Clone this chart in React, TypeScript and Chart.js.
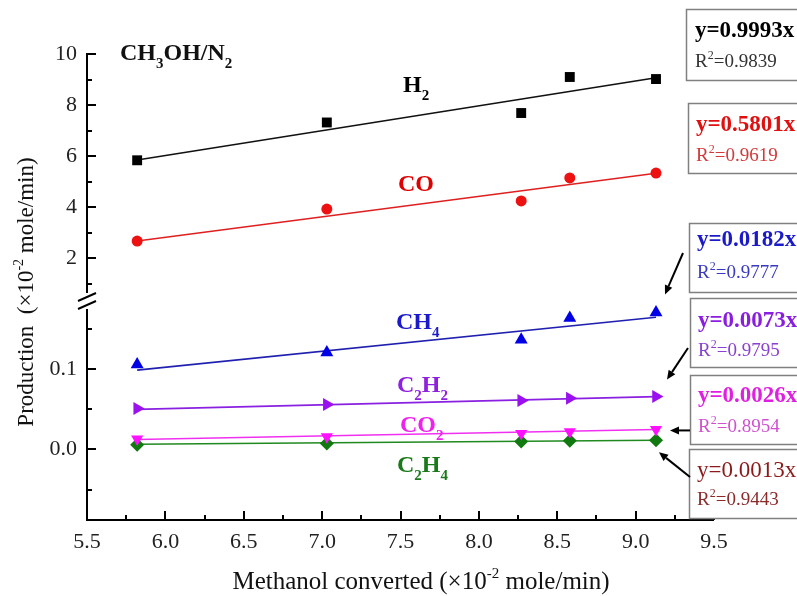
import React, { useEffect, useRef } from 'react';
import { Chart, registerables } from 'chart.js';

Chart.register(...registerables);

// ---- data ----
const xValues = [5.82, 7.03, 8.27, 8.58, 9.13];
const h2 = [5.84, 7.32, 7.69, 9.1, 9.02];
const co = [2.68, 3.93, 4.25, 5.15, 5.34];
const ch4 = [0.106, 0.121, 0.137, 0.164, 0.171];
const c2h2 = [0.051, 0.056, 0.061, 0.064, 0.066];
const co2 = [0.013, 0.016, 0.02, 0.022, 0.025];
const c2h4 = [0.006, 0.0075, 0.01, 0.011, 0.0115];

const fitX = [5.82, 9.13];
const h2Fit = [5.85, 9.07];
const coFit = [2.68, 5.33];
const ch4Fit = [0.099, 0.165];
const c2h2Fit = [0.05, 0.066];
const co2Fit = [0.0125, 0.025];
const c2h4Fit = [0.0065, 0.0115];

const xMajorTicks = [5.5, 6.0, 6.5, 7.0, 7.5, 8.0, 8.5, 9.0, 9.5];
const xMinorTicks = [5.75, 6.25, 6.75, 7.25, 7.75, 8.25, 8.75, 9.25];
const upperMajorTicks = [2, 4, 6, 8, 10];
const upperMinorTicks = [1, 3, 5, 7, 9];
const lowerMajorTicks = [0.0, 0.1];
const lowerMinorTicks = [-0.05, 0.05, 0.15];

const equations = ['y=0.9993x', 'y=0.5801x', 'y=0.0182x', 'y=0.0073x', 'y=0.0026x', 'y=0.0013x'];
const r2Values = ['0.9839', '0.9619', '0.9777', '0.9795', '0.8954', '0.9443'];

const FONT = '"Liberation Serif", "Times New Roman", serif';

type Run = { t: string; s: number; dy?: number; b?: boolean };

function runFont(r: Run) {
  return `${r.b ? 'bold ' : ''}${r.s}px ${FONT}`;
}

function drawRuns(ctx: CanvasRenderingContext2D, runs: Run[], x: number, y: number, color: string, align: 'left' | 'center' = 'left') {
  ctx.save();
  ctx.fillStyle = color;
  ctx.textBaseline = 'alphabetic';
  ctx.textAlign = 'left';
  let w = 0;
  for (const r of runs) {
    ctx.font = runFont(r);
    w += ctx.measureText(r.t).width;
  }
  let cx = align === 'center' ? x - w / 2 : x;
  for (const r of runs) {
    ctx.font = runFont(r);
    ctx.fillText(r.t, cx, y + (r.dy || 0));
    cx += ctx.measureText(r.t).width;
  }
  ctx.restore();
}

function chem(parts: string[], size: number, sub: number): Run[] {
  // parts alternate: normal, subscript, normal, subscript...
  return parts.map((t, i) => (i % 2 === 0 ? { t, s: size, b: true } : { t, s: sub, b: true, dy: 8 }));
}

function line(ctx: CanvasRenderingContext2D, x1: number, y1: number, x2: number, y2: number) {
  ctx.beginPath();
  ctx.moveTo(x1, y1);
  ctx.lineTo(x2, y2);
  ctx.stroke();
}

function arrow(ctx: CanvasRenderingContext2D, x1: number, y1: number, x2: number, y2: number) {
  const ang = Math.atan2(y2 - y1, x2 - x1);
  const hl = 9;
  const hw = 4;
  const bx = x2 - Math.cos(ang) * hl;
  const by = y2 - Math.sin(ang) * hl;
  ctx.save();
  ctx.strokeStyle = '#000';
  ctx.fillStyle = '#000';
  ctx.lineWidth = 2;
  line(ctx, x1, y1, bx, by);
  ctx.beginPath();
  ctx.moveTo(x2, y2);
  ctx.lineTo(bx + Math.sin(ang) * hw, by - Math.cos(ang) * hw);
  ctx.lineTo(bx - Math.sin(ang) * hw, by + Math.cos(ang) * hw);
  ctx.closePath();
  ctx.fill();
  ctx.restore();
}

const boxes = [
  { x: 686, top: 9, bottom: 80, b1: 37, b2: 67, tx: 695, c1: '#000000', c2: '#333333', bold: true },
  { x: 688, top: 103, bottom: 173, b1: 131, b2: 161, tx: 696, c1: '#e01010', c2: '#d03a3a', bold: true },
  { x: 689, top: 223, bottom: 292, b1: 246, b2: 278, tx: 697, c1: '#1a1ac8', c2: '#3a3ac0', bold: true },
  { x: 690, top: 298, bottom: 367, b1: 327, b2: 356, tx: 698, c1: '#8a1ee0', c2: '#8a40d0', bold: true },
  { x: 690, top: 375, bottom: 444, b1: 402, b2: 432, tx: 698, c1: '#e020e0', c2: '#d050d0', bold: true },
  { x: 689, top: 449, bottom: 518, b1: 477, b2: 505, tx: 697, c1: '#8b1a1a', c2: '#8b2a2a', bold: false },
];

const overlayPlugin = {
  id: 'overlay',
  afterDraw(chart: any) {
    const { ctx, chartArea: ca, scales } = chart;
    const xs = scales.x;
    const yt = scales.yTop;
    const yb = scales.yBot;
    ctx.save();
    ctx.strokeStyle = '#000';
    ctx.lineWidth = 2;
    ctx.lineCap = 'butt';

    // x axis
    line(ctx, ca.left - 1, ca.bottom, ca.right, ca.bottom);
    for (const v of xMajorTicks) {
      const px = Math.round(xs.getPixelForValue(v));
      line(ctx, px, ca.bottom, px, ca.bottom - 9);
    }
    for (const v of xMinorTicks) {
      const px = Math.round(xs.getPixelForValue(v));
      line(ctx, px, ca.bottom, px, ca.bottom - 5);
    }

    // y axis with break
    const L = ca.left;
    const brk = yt.bottom + 3;
    line(ctx, L, ca.top - 1, L, brk - 8);
    line(ctx, L, brk + 8, L, ca.bottom + 1);
    ctx.lineWidth = 2;
    line(ctx, L - 9, brk - 4 + 4, L + 9, brk - 4 - 4);
    line(ctx, L - 9, brk + 4 + 4, L + 9, brk + 4 - 4);

    for (const v of upperMajorTicks) {
      const py = Math.round(yt.getPixelForValue(v));
      line(ctx, L, py, L + 9, py);
    }
    for (const v of upperMinorTicks) {
      const py = Math.round(yt.getPixelForValue(v));
      line(ctx, L, py, L + 5, py);
    }
    for (const v of lowerMajorTicks) {
      const py = Math.round(yb.getPixelForValue(v));
      line(ctx, L, py, L + 9, py);
    }
    for (const v of lowerMinorTicks) {
      const py = Math.round(yb.getPixelForValue(v));
      line(ctx, L, py, L + 5, py);
    }

    // axis titles
    drawRuns(ctx, [
      { t: 'Methanol converted (\u00d710', s: 25 },
      { t: '-2', s: 15, dy: -11 },
      { t: ' mole/min)', s: 25 },
    ], 421, 589, '#111', 'center');

    ctx.save();
    ctx.translate(33, 292);
    ctx.rotate(-Math.PI / 2);
    drawRuns(ctx, [
      { t: 'Production  (\u00d710', s: 23 },
      { t: '-2', s: 14, dy: -10 },
      { t: ' mole/min)', s: 23 },
    ], 0, 0, '#111', 'center');
    ctx.restore();

    // in-chart labels
    drawRuns(ctx, chem(['CH', '3', 'OH/N', '2'], 24, 15), 120, 60, '#111');
    drawRuns(ctx, chem(['H', '2'], 24, 15), 403, 92, '#000');
    drawRuns(ctx, chem(['CO'], 24, 15), 398, 191, '#e00000');
    drawRuns(ctx, chem(['CH', '4'], 24, 15), 396, 329, '#1a1acc');
    drawRuns(ctx, chem(['C', '2', 'H', '2'], 24, 15), 397, 392, '#9020e0');
    drawRuns(ctx, chem(['CO', '2'], 24, 15), 400, 432, '#f020f0');
    drawRuns(ctx, chem(['C', '2', 'H', '4'], 24, 15), 397, 472, '#1a7a1a');

    // equation boxes
    boxes.forEach((bx, i) => {
      ctx.save();
      ctx.strokeStyle = '#808080';
      ctx.lineWidth = 1.5;
      ctx.fillStyle = '#ffffff';
      ctx.beginPath();
      ctx.rect(bx.x + 0.5, bx.top + 0.5, 140, bx.bottom - bx.top);
      ctx.fill();
      ctx.stroke();
      ctx.restore();
      drawRuns(ctx, [{ t: equations[i], s: 23, b: bx.bold }], bx.tx, bx.b1, bx.c1);
      drawRuns(ctx, [
        { t: 'R', s: 19 },
        { t: '2', s: 12, dy: -8 },
        { t: '=' + r2Values[i], s: 19 },
      ], bx.tx, bx.b2, bx.c2);
    });

    // arrows pointing to the last data points
    const last = xValues.length - 1;
    const lx = xs.getPixelForValue(xValues[last]);
    const pCh4 = yb.getPixelForValue(ch4[last]);
    const pC2h2 = yb.getPixelForValue(c2h2[last]);
    const pCo2 = yb.getPixelForValue(co2[last]);
    const pC2h4 = yb.getPixelForValue(c2h4[last]);
    arrow(ctx, 683, 253, lx + 9, pCh4 - 18);
    arrow(ctx, 688, 348, lx + 11, pC2h2 - 17);
    arrow(ctx, 690, pCo2 + 1, lx + 14, pCo2 + 1);
    arrow(ctx, 690, 477, lx + 3, pC2h4 + 12);

    ctx.restore();
  },
};

function pts(ys: number[], xsArr: number[] = xValues) {
  return xsArr.map((x, i) => ({ x, y: ys[i] }));
}

export default function App() {
  const canvasRef = useRef<HTMLCanvasElement>(null);

  useEffect(() => {
    const canvas = canvasRef.current;
    if (!canvas) return;

    const pointDs = (label: string, data: number[], axis: string, color: string, style: string, radius: number, rotation = 0) => ({
      label,
      data: pts(data),
      yAxisID: axis,
      showLine: false,
      pointStyle: style,
      pointRadius: radius,
      pointRotation: rotation,
      backgroundColor: color,
      borderColor: color,
      borderWidth: 0,
      order: 0,
    });
    const lineDs = (label: string, data: number[], axis: string, color: string) => ({
      label,
      data: pts(data, fitX),
      yAxisID: axis,
      showLine: true,
      pointRadius: 0,
      borderColor: color,
      borderWidth: 1.6,
      backgroundColor: color,
      order: 1,
    });

    const chart = new Chart(canvas, {
      type: 'scatter',
      data: {
        datasets: [
          pointDs('H2', h2, 'yTop', '#000000', 'rect', 7),
          pointDs('CO', co, 'yTop', '#ee1111', 'circle', 5.5),
          pointDs('CH4', ch4, 'yBot', '#0000e6', 'triangle', 7.5),
          pointDs('C2H2', c2h2, 'yBot', '#9a10f0', 'triangle', 7.5, 90),
          pointDs('CO2', co2, 'yBot', '#ff10ff', 'triangle', 7, 180),
          pointDs('C2H4', c2h4, 'yBot', '#107a10', 'rectRot', 7),
          lineDs('H2 fit', h2Fit, 'yTop', '#111111'),
          lineDs('CO fit', coFit, 'yTop', '#e02020'),
          lineDs('CH4 fit', ch4Fit, 'yBot', '#2020b0'),
          lineDs('C2H2 fit', c2h2Fit, 'yBot', '#8a20e0'),
          lineDs('CO2 fit', co2Fit, 'yBot', '#f030f0'),
          lineDs('C2H4 fit', c2h4Fit, 'yBot', '#208a20'),
        ] as any,
      },
      options: {
        animation: false,
        responsive: false,
        devicePixelRatio: 1,
        layout: { padding: { top: 54, right: 83, bottom: 0, left: 0 } },
        plugins: { legend: { display: false }, tooltip: { enabled: false } },
        scales: {
          x: {
            type: 'linear',
            position: 'bottom',
            min: 5.5,
            max: 9.5,
            grid: { display: false, drawTicks: false },
            border: { display: false },
            afterBuildTicks: (s: any) => { s.ticks = xMajorTicks.map((v) => ({ value: v })); },
            afterFit: (s: any) => { s.height = 76; },
            ticks: {
              autoSkip: false,
              maxRotation: 0,
              padding: 9,
              color: '#222',
              font: { family: FONT, size: 22 },
              callback: (v: any) => Number(v).toFixed(1),
            },
          },
          yBot: {
            type: 'linear',
            position: 'left',
            stack: 'y',
            stackWeight: 222,
            min: -0.088,
            max: 0.189,
            grid: { display: false, drawTicks: false },
            border: { display: false },
            afterBuildTicks: (s: any) => { s.ticks = lowerMajorTicks.map((v) => ({ value: v })); },
            afterFit: (s: any) => { s.width = 87; },
            ticks: {
              autoSkip: false,
              padding: 10,
              color: '#222',
              font: { family: FONT, size: 22 },
              callback: (v: any) => Number(v).toFixed(1),
            },
          },
          yTop: {
            type: 'linear',
            position: 'left',
            stack: 'y',
            stackWeight: 244,
            min: 0.45,
            max: 10,
            grid: { display: false, drawTicks: false },
            border: { display: false },
            afterBuildTicks: (s: any) => { s.ticks = upperMajorTicks.map((v) => ({ value: v })); },
            afterFit: (s: any) => { s.width = 87; },
            ticks: {
              autoSkip: false,
              padding: 10,
              color: '#222',
              font: { family: FONT, size: 22 },
              callback: (v: any) => String(v),
            },
          },
        },
      } as any,
      plugins: [overlayPlugin],
    });

    return () => chart.destroy();
  }, []);

  return (
    <div style={{ position: 'fixed', left: 0, top: 0, width: 797, height: 596, background: '#fff', overflow: 'hidden' }}>
      <canvas ref={canvasRef} width={797} height={596} style={{ display: 'block', width: 797, height: 596 }} />
    </div>
  );
}
